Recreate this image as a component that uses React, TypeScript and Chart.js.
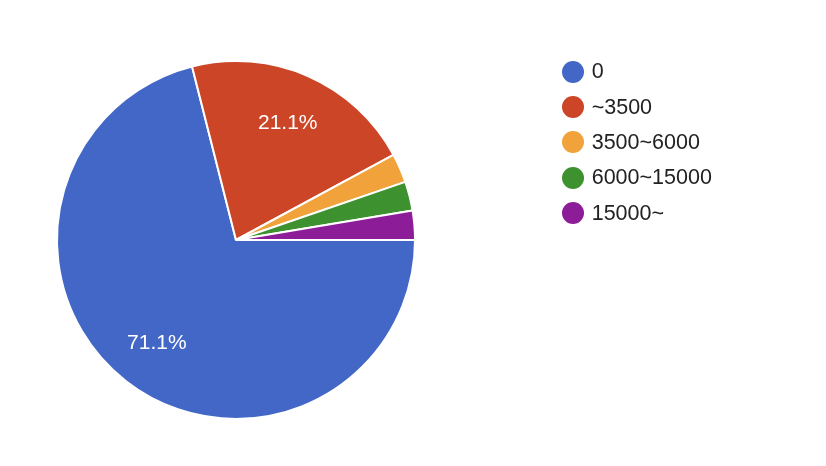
import React, { useEffect, useRef } from "react";
import { Chart, registerables } from "chart.js";

Chart.register(...registerables);

const categories = ["0", "~3500", "3500~6000", "6000~15000", "15000~"];
const counts = [27, 8, 1, 1, 1];
const colors = ["#4267c6", "#cc4527", "#f1a23a", "#3e912f", "#8c1c98"];

const FONT = '"Liberation Sans", Arial, Helvetica, sans-serif';

const pctLabels = {
  id: "pctLabels",
  afterDatasetsDraw(chart: any) {
    const ctx = chart.ctx;
    const meta = chart.getDatasetMeta(0);
    const data = chart.data.datasets[0].data as number[];
    const total = data.reduce((a, b) => a + b, 0);
    ctx.save();
    ctx.fillStyle = "#ffffff";
    ctx.font = `21px ${FONT}`;
    ctx.textAlign = "center";
    ctx.textBaseline = "middle";
    meta.data.forEach((arc: any, i: number) => {
      const p = arc.getProps(["x", "y", "startAngle", "endAngle", "outerRadius"], true);
      const frac = data[i] / total;
      if (frac < 0.05) return;
      const mid = (p.startAngle + p.endAngle) / 2;
      const r = p.outerRadius * 0.72;
      const tx = p.x + Math.cos(mid) * r;
      const ty = p.y + Math.sin(mid) * r;
      ctx.fillText((frac * 100).toFixed(1) + "%", tx, ty + 1);
    });
    ctx.restore();
  },
};

export default function App() {
  const ref = useRef<HTMLCanvasElement | null>(null);

  useEffect(() => {
    document.body.style.margin = "0";
    if (!ref.current) return;
    const chart = new Chart(ref.current, {
      type: "pie",
      data: {
        labels: categories,
        datasets: [
          {
            data: counts,
            backgroundColor: colors,
            borderColor: "#ffffff",
            borderWidth: 2,
          },
        ],
      },
      options: {
        animation: false,
        responsive: false,
        rotation: 90,
        layout: { padding: { left: 56, right: 410, top: 60, bottom: 46 } },
        plugins: {
          legend: { display: false },
          tooltip: { enabled: false },
        },
      },
      plugins: [pctLabels],
    });
    return () => chart.destroy();
  }, []);

  return (
    <div style={{ position: "relative", width: 826, height: 466, background: "#fff" }}>
      <canvas ref={ref} width={826} height={466} style={{ position: "absolute", left: 0, top: 0, width: 826, height: 466 }} />
      <div style={{ position: "absolute", left: 561.7, top: 54 }}>
        {categories.map((c, i) => (
          <div key={c} style={{ height: 35.4, display: "flex", alignItems: "center" }}>
            <span style={{ width: 22, height: 22, borderRadius: "50%", background: colors[i], display: "inline-block", flex: "none" }} />
            <span style={{ marginLeft: 8, fontFamily: FONT, fontSize: 21.5, color: "#222222", whiteSpace: "nowrap" }}>{c}</span>
          </div>
        ))}
      </div>
    </div>
  );
}
